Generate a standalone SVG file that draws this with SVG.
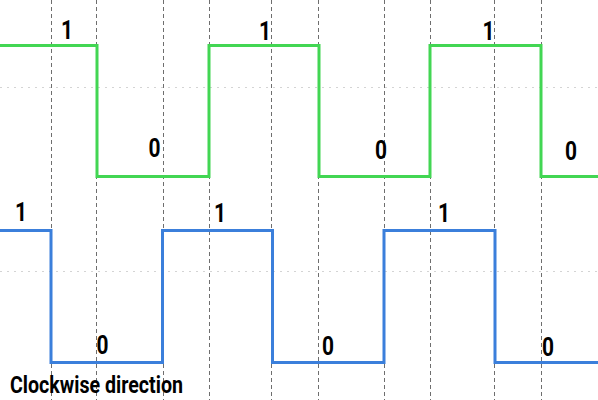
<svg xmlns="http://www.w3.org/2000/svg" width="598" height="400" viewBox="0 0 598 400">
<style>
.grid{stroke:#6e6e6e;stroke-width:1;stroke-dasharray:4 3;fill:none}
.dot{stroke:#d4d4d4;stroke-width:1;stroke-dasharray:2 5;fill:none}
.sig{fill:none;stroke-width:3;stroke-linejoin:miter;stroke-linecap:butt}
.lbl{font-family:Roboto,"Liberation Sans",sans-serif;font-weight:bold;font-size:26px;fill:#000;text-anchor:middle}
.title{font-family:Roboto,"Liberation Sans",sans-serif;font-weight:bold;font-size:24px;fill:#000}
</style>
<rect width="598" height="400" fill="#fff"/>
<g id="grid">
<line class="dot" x1="0" y1="87.5" x2="598" y2="87.5"/>
<line class="dot" x1="0" y1="271.5" x2="598" y2="271.5"/>
<line class="grid" x1="51.5" y1="0" x2="51.5" y2="400"/>
<line class="grid" x1="96.5" y1="0" x2="96.5" y2="400"/>
<line class="grid" x1="163.5" y1="0" x2="163.5" y2="400"/>
<line class="grid" x1="209.5" y1="0" x2="209.5" y2="400"/>
<line class="grid" x1="271.5" y1="0" x2="271.5" y2="400"/>
<line class="grid" x1="318.5" y1="0" x2="318.5" y2="400"/>
<line class="grid" x1="384.5" y1="0" x2="384.5" y2="400"/>
<line class="grid" x1="430.5" y1="0" x2="430.5" y2="400"/>
<line class="grid" x1="494.5" y1="0" x2="494.5" y2="400"/>
<line class="grid" x1="541.5" y1="0" x2="541.5" y2="400"/>
</g>
<g id="green-signal">
<path class="sig" stroke="#42d653" d="M0,45.5 H97 V176.5 H209 V45.5 H319 V176.5 H430 V45.5 H541 V176.5 H598"/>
<text class="lbl" x="67" y="39" textLength="12" lengthAdjust="spacingAndGlyphs">1</text>
<text class="lbl" x="154.5" y="157" textLength="12" lengthAdjust="spacingAndGlyphs">0</text>
<text class="lbl" x="265" y="40" textLength="12" lengthAdjust="spacingAndGlyphs">1</text>
<text class="lbl" x="381" y="159" textLength="12" lengthAdjust="spacingAndGlyphs">0</text>
<text class="lbl" x="488.5" y="40" textLength="12" lengthAdjust="spacingAndGlyphs">1</text>
<text class="lbl" x="571" y="160" textLength="12" lengthAdjust="spacingAndGlyphs">0</text>
</g>
<g id="blue-signal">
<path class="sig" stroke="#3b7fdb" d="M0,230.5 H51 V362.5 H162.5 V230.5 H272.5 V362.5 H384 V230.5 H495 V362.5 H598"/>
<text class="lbl" x="21" y="221" textLength="12" lengthAdjust="spacingAndGlyphs">1</text>
<text class="lbl" x="102.5" y="354" textLength="12" lengthAdjust="spacingAndGlyphs">0</text>
<text class="lbl" x="220" y="222" textLength="12" lengthAdjust="spacingAndGlyphs">1</text>
<text class="lbl" x="328" y="355" textLength="12" lengthAdjust="spacingAndGlyphs">0</text>
<text class="lbl" x="444" y="222" textLength="12" lengthAdjust="spacingAndGlyphs">1</text>
<text class="lbl" x="548" y="356" textLength="12" lengthAdjust="spacingAndGlyphs">0</text>
</g>
<g id="caption">
<text class="title" x="10" y="393" textLength="173" lengthAdjust="spacingAndGlyphs">Clockwise direction</text>
</g>
</svg>
